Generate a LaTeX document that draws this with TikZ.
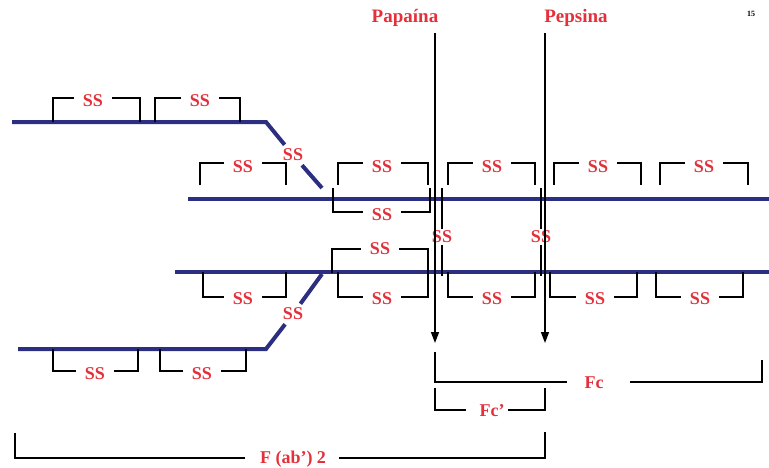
\documentclass[tikz,border=0pt]{standalone}
\usepackage{fontspec}
\setmainfont{Liberation Serif}
\usetikzlibrary{arrows.meta}
\definecolor{chainblue}{RGB}{44,46,130}
\definecolor{ssred}{RGB}{228,48,58}

% SS bridge bracket: name, x1, x2, y at the chain, y of the bar, label x, label y
\newcommand{\ssbracket}[7]{%
  \draw[bond] (#2,#4) -- (#2,#5) -- (#3,#5) -- (#3,#4);
  \node[lbl, fill=white, inner xsep=9pt, inner ysep=0.5pt] (#1) at (#6,#7) {SS};
}

\tikzset{
  chain/.style={line width=4pt, draw=chainblue},
  bond/.style={line width=2.8pt, draw=black, line join=miter, line cap=butt},
  lbl/.style={text=ssred, font=\fontsize{18}{18}\selectfont\bfseries, inner sep=3pt},
  cut/.style={line width=1.5pt, -{Triangle[length=11pt,width=8pt]}},
  span/.style={line width=2.4pt, draw=black, line join=miter},
}

\begin{document}
\begin{tikzpicture}[x=1pt,y=-1pt]
\useasboundingbox (0,0) rectangle (769,467);

% page number
\node[font=\fontsize{8}{8}\selectfont\bfseries] (pageno) at (751,14) {15};

% enzyme labels and cleavage arrows
\node[lbl, font=\fontsize{19}{19}\selectfont\bfseries] (papain) at (405,18) {Papaína};
\node[lbl, font=\fontsize{19}{19}\selectfont\bfseries] (pepsin) at (576,18) {Pepsina};
\coordinate (papTop) at (435,33);
\coordinate (papTip) at (435,343);
\coordinate (pepTop) at (545,33);
\coordinate (pepTip) at (545,343);

% heavy chains
\draw[chain] (188,199) -- (769,199);
\draw[chain] (175,272) -- (769,272);

% light chains with their hinge links
\node[lbl, inner sep=4pt] (hingeA) at (293,155) {SS};
\draw[chain] (12,122) -- (266,122) -- (hingeA);
\draw[chain] (hingeA) -- (322,188);
\node[lbl, inner sep=4pt] (hingeB) at (293,314) {SS};
\draw[chain] (18,349) -- (266,349) -- (hingeB);
\draw[chain] (hingeB) -- (322,274);

% upper light chain brackets
\ssbracket{la1}{53}{140}{122}{98}{93}{101}
\ssbracket{la2}{155}{240}{122}{98}{200}{101}

% upper heavy chain, brackets above
\ssbracket{ha1}{200}{286}{185}{163}{243}{167}
\ssbracket{ha2}{338}{428}{185}{163}{382}{167}
\ssbracket{ha3}{448}{535}{185}{163}{492}{167}
\ssbracket{ha4}{554}{641}{185}{163}{598}{167}
\ssbracket{ha5}{660}{748}{185}{163}{704}{167}

% upper heavy chain, bracket below
\ssbracket{hb1}{333}{430}{188}{212}{382}{215}

% lower heavy chain, bracket above
\ssbracket{hc1}{332}{428}{273}{249}{380}{249}

% lower heavy chain, brackets below
\ssbracket{hd1}{203}{286}{272}{297}{243}{299}
\ssbracket{hd2}{338}{428}{272}{297}{382}{299}
\ssbracket{hd3}{448}{535}{272}{297}{492}{299}
\ssbracket{hd4}{550}{637}{272}{297}{595}{299}
\ssbracket{hd5}{656}{743}{272}{297}{700}{299}

% lower light chain brackets
\ssbracket{lb1}{53}{138}{349}{371}{95}{374}
\ssbracket{lb2}{160}{246}{349}{371}{202}{374}

% inter-chain disulfide bridges
\node[lbl, inner sep=1.5pt] (bridgeA) at (442,237) {SS};
\node[lbl, inner sep=1.5pt] (bridgeB) at (541,237) {SS};
\draw[bond] (bridgeA) -- (442,188);
\draw[bond] (bridgeA) -- (442,276);
\draw[bond] (bridgeB) -- (541,188);
\draw[bond] (bridgeB) -- (541,276);

% cleavage arrows
\draw[cut] (papTop) -- (papTip);
\draw[cut] (pepTop) -- (pepTip);

% fragment spans
\node[lbl] (fc) at (594,383) {Fc};
\draw[span] (435,352) -- (435,382) -- (567,382);
\draw[span] (630,382) -- (762,382) -- (762,360);

\node[lbl] (fcp) at (492,411) {Fc'};
\draw[span] (435,388) -- (435,410) -- (466,410);
\draw[span] (508,410) -- (545,410) -- (545,388);

\node[lbl] (fab) at (293,459) {F (ab') 2};
\draw[span] (15,433) -- (15,458) -- (245,458);
\draw[span] (339,458) -- (545,458) -- (545,432);
\end{tikzpicture}
\end{document}
